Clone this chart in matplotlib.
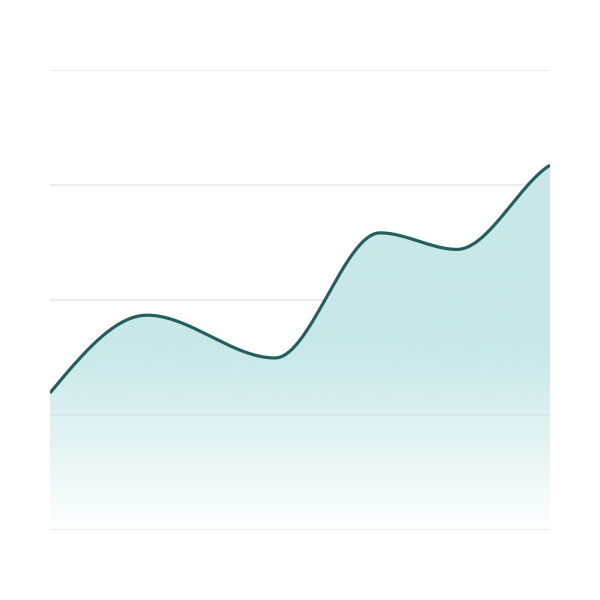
import numpy as np
import matplotlib
matplotlib.use("Agg")
import matplotlib.pyplot as plt

# data
x_vals = [0, 97, 225, 330, 407, 500]
y_vals = [29.8, 46.7, 37.4, 64.6, 61.0, 79.3]
grid_ticks = [0, 25, 50, 75, 100]


def monotone_slopes(x, y):
    x = np.asarray(x, float); y = np.asarray(y, float)
    h = np.diff(x); s = np.diff(y) / h
    n = len(x)
    m = np.zeros(n)
    for k in range(1, n - 1):
        p = (s[k - 1] * h[k] + s[k] * h[k - 1]) / (h[k - 1] + h[k])
        m[k] = (np.sign(s[k - 1]) + np.sign(s[k])) * min(abs(s[k - 1]), abs(s[k]), 0.5 * abs(p))
    m[0] = (3 * s[0] - m[1]) / 2
    m[-1] = 0.67 * s[-1]
    return m


def hermite(x, y, m, xs):
    x = np.asarray(x, float); y = np.asarray(y, float)
    h = np.diff(x); n = len(x)
    out = np.empty_like(xs)
    for i, xv in enumerate(xs):
        k = min(max(np.searchsorted(x, xv) - 1, 0), n - 2)
        t = (xv - x[k]) / h[k]
        h00 = 2*t**3 - 3*t**2 + 1; h10 = t**3 - 2*t**2 + t
        h01 = -2*t**3 + 3*t**2; h11 = t**3 - t**2
        out[i] = h00*y[k] + h10*h[k]*m[k] + h01*y[k+1] + h11*h[k]*m[k+1]
    return out


xs = np.linspace(x_vals[0], x_vals[-1], 1000)
ys = hermite(x_vals, y_vals, monotone_slopes(x_vals, y_vals), xs)

fig = plt.figure(figsize=(6, 6), dpi=100)
ax = fig.add_axes([50/600, 70/600, 500/600, 460/600])
ax.set_xlim(x_vals[0], x_vals[-1])
ax.set_ylim(0, 100)
ax.axis('off')

for t in grid_ticks:
    ax.plot([x_vals[0], x_vals[-1]], [t, t], color='#000000', alpha=0.09, lw=1.1, zorder=1,
            solid_capstyle='butt')

# gradient fill (semi-transparent towards the bottom, over the grid)
top = max(ys)
nrow = 400
val = np.linspace(0, 1, nrow) * top
alpha = np.clip(val / (top * 0.5), 0, 1)
alpha = 0.02 + 0.98 * alpha
base = np.array([200, 232, 232]) / 255.0
img = np.ones((nrow, 2, 4))
for c in range(3):
    img[:, :, c] = base[c]
img[:, :, 3] = alpha[:, None]
poly = ax.fill_between(xs, ys, 0, color='none', lw=0)
im = ax.imshow(img, origin='lower', aspect='auto',
               extent=[x_vals[0], x_vals[-1], 0, top], zorder=2)
im.set_clip_path(poly.get_paths()[0], transform=ax.transData)

ax.plot(xs, ys, color='#235f5d', lw=2.3, zorder=3, solid_capstyle='butt')

fig.savefig('out.png', dpi=100)
